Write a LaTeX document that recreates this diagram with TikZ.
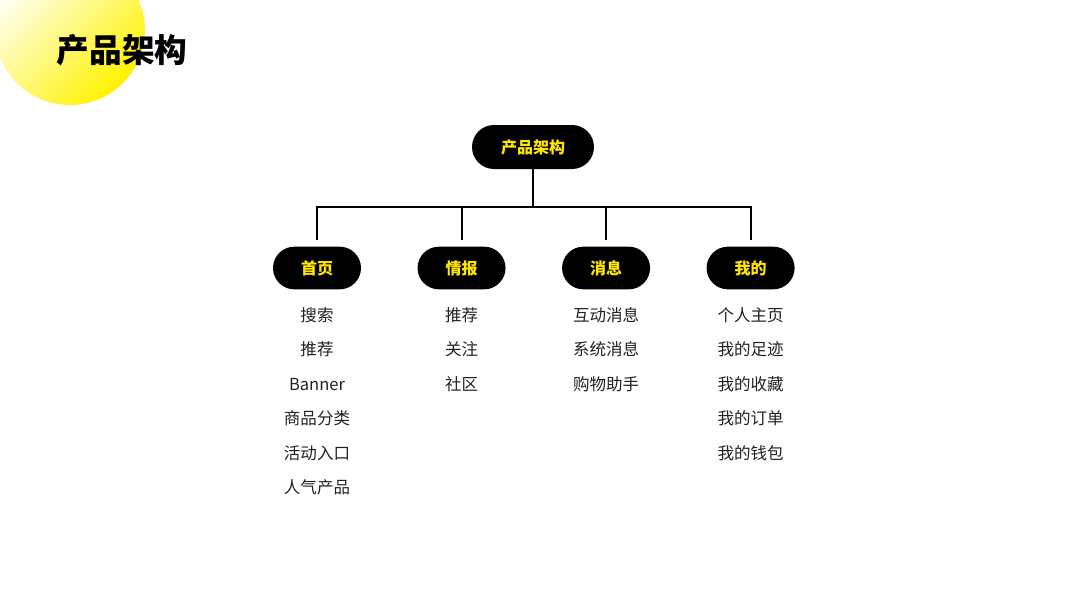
\documentclass[tikz,border=0pt]{standalone}
\usepackage{fontspec}
\newfontfamily\cjk{Noto Sans CJK SC}
\usepackage{xcolor}
\usepackage{tikz}
\usetikzlibrary{positioning}

\definecolor{sunyellow}{HTML}{FFF200}
\definecolor{pilltext}{HTML}{FFE600}
\definecolor{itemgray}{HTML}{222222}

\begin{document}
\begin{tikzpicture}[
    x=0.75pt, y=-0.75pt,
    node distance=42pt,
    pill/.style={fill=black, rounded corners=16pt, minimum width=66pt, minimum height=32pt, inner sep=0pt, text=pilltext, font=\cjk\bfseries\fontsize{12}{14}\selectfont},
    items/.style={align=center, inner sep=0pt, text=itemgray, font=\cjk\fontsize{12.4}{25.9}\selectfont},
    conn/.style={line width=1.5pt, shorten >=5pt}
]
\useasboundingbox (0,0) rectangle (1067,600);
\fill[white] (0,0) rectangle (1067,600);

% corner circle and title
\shade[shading=axis, top color=white, bottom color=sunyellow, shading angle=45] (70,30) circle[radius=75];
\node (title) at (122,50) {\cjk\bfseries\fontsize{24.5}{28}\selectfont 产品架构};

% root and sections
\node[pill, minimum width=91.5pt, minimum height=33pt, rounded corners=16.5pt] (root) at (533,147) {产品架构};
\node[pill] (home) at (317,268) {首页};
\node[pill, right=of home] (news) {情报};
\node[pill, right=of news] (msg) {消息};
\node[pill, right=of msg] (mine) {我的};

\draw[conn] (root.south) -- ++(0,38) -| (home.north);
\draw[conn] (root.south) -- ++(0,38) -| (news.north);
\draw[conn] (root.south) -- ++(0,38) -| (msg.north);
\draw[conn] (root.south) -- ++(0,38) -| (mine.north);

% lists
\node[items, below=13pt of home] (homelist) {搜索\\推荐\\Banner\\商品分类\\活动入口\\人气产品};
\node[items, below=13pt of news] (newslist) {推荐\\关注\\社区};
\node[items, below=13pt of msg] (msglist) {互动消息\\系统消息\\购物助手};
\node[items, below=13pt of mine] (minelist) {个人主页\\我的足迹\\我的收藏\\我的订单\\我的钱包};
\end{tikzpicture}
\end{document}
